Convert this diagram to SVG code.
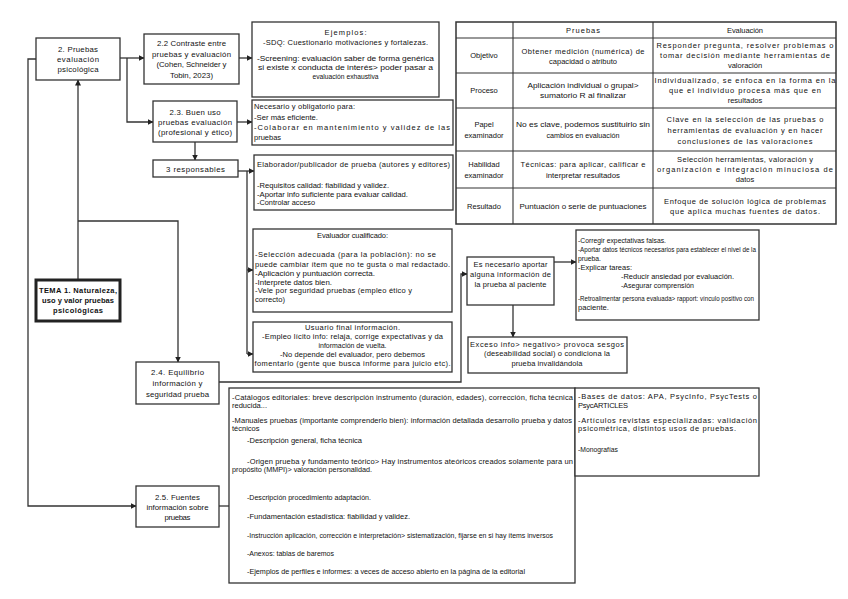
<svg xmlns="http://www.w3.org/2000/svg" width="848" height="599" viewBox="0 0 848 599">
<defs>
<style>
.bx{fill:#fff;stroke:#333;stroke-width:1.3}
.bold{fill:#fff;stroke:#222;stroke-width:3}
.ln{fill:none;stroke:#333;stroke-width:1.3}
.t{font-family:"Liberation Sans",Arial,sans-serif;font-size:7.5px;fill:#111}
.l{font-size:7.8px}
.c{text-anchor:middle}
.b{font-weight:bold}
</style>
<marker id="ah" markerWidth="6" markerHeight="6" refX="5.5" refY="3" orient="auto" markerUnits="userSpaceOnUse">
<path d="M0,0 L6,3 L0,6 Z" fill="#222"/>
</marker>
</defs>
<rect width="848" height="599" fill="#fff"/>

<g id="connectors">
<path class="ln" d="M120,58 H144" marker-end="url(#ah)"/>
<path class="ln" d="M127,58 V122 H153" marker-end="url(#ah)"/>
<path class="ln" d="M239,58 H252" marker-end="url(#ah)"/>
<path class="ln" d="M237,122 H252" marker-end="url(#ah)"/>
<path class="ln" d="M195,142 V160" marker-end="url(#ah)"/>
<path class="ln" d="M238,171 H254" marker-end="url(#ah)"/>
<path class="ln" d="M247,171 V354"/>
<path class="ln" d="M247,270 H253" marker-end="url(#ah)"/>
<path class="ln" d="M247,354 H253" marker-end="url(#ah)"/>
<path class="ln" d="M36,59 H28 V506 H136" marker-end="url(#ah)"/>
<path class="ln" d="M78,280 V80" marker-end="url(#ah)"/>
<path class="ln" d="M78,221 H178 V362" marker-end="url(#ah)"/>
<path class="ln" d="M219,382 H461 V274 H467" marker-end="url(#ah)"/>
<path class="ln" d="M554,262 H576" marker-end="url(#ah)"/>
<path class="ln" d="M513,305 V337" marker-end="url(#ah)"/>
<path class="ln" d="M219,506 H229"/>
</g>

<g id="n2">
<rect class="bx" x="36" y="38" width="84" height="42"/>
<text class="t l c" x="78" y="52" textLength="40">2. Pruebas</text>
<text class="t l c" x="78" y="62" textLength="42">evaluación</text>
<text class="t l c" x="78" y="72" textLength="41">psicológica</text>
</g>

<g id="n22">
<rect class="bx" x="144" y="34" width="95" height="50"/>
<text class="t l c" x="191.5" y="46" textLength="69">2.2 Contraste entre</text>
<text class="t l c" x="191.5" y="56.5" textLength="79">pruebas y evaluación</text>
<text class="t l c" x="191.5" y="67" textLength="70">(Cohen, Schneider y</text>
<text class="t l c" x="191.5" y="77.5" textLength="43">Tobin, 2023)</text>
</g>

<g id="ejemplos">
<rect class="bx" x="252" y="22" width="187" height="75"/>
<text class="t c" x="345.5" y="35" textLength="42">Ejemplos:</text>
<text class="t c" x="345.5" y="45" textLength="165">-SDQ: Cuestionario motivaciones y fortalezas.</text>
<text class="t c" x="345.5" y="61" textLength="177" lengthAdjust="spacingAndGlyphs">-Screening: evaluación saber de forma genérica</text>
<text class="t c" x="345.5" y="70" textLength="175" lengthAdjust="spacingAndGlyphs">si existe x conducta de interés&gt; poder pasar a</text>
<text class="t c" x="345.5" y="78.5" textLength="66" lengthAdjust="spacingAndGlyphs">evaluación exhaustiva</text>
</g>

<g id="n23">
<rect class="bx" x="153" y="101" width="84" height="41"/>
<text class="t l c" x="195" y="115" textLength="51">2.3. Buen uso</text>
<text class="t l c" x="195" y="125" textLength="74">pruebas evaluación</text>
<text class="t l c" x="195" y="135" textLength="74">(profesional y ético)</text>
</g>

<g id="necesario">
<rect class="bx" x="252" y="100" width="201" height="45"/>
<text class="t" x="254" y="109" textLength="101">Necesario y obligatorio para:</text>
<text class="t" x="254" y="120" textLength="64" lengthAdjust="spacingAndGlyphs">-Ser más eficiente.</text>
<text class="t" x="254" y="130" textLength="196">-Colaborar en mantenimiento y validez de las</text>
<text class="t" x="254" y="140">pruebas</text>
</g>

<g id="responsables">
<rect class="bx" x="153" y="160" width="85" height="17"/>
<text class="t l c" x="195.5" y="171.5" textLength="59">3 responsables</text>
</g>

<g id="elaborador">
<rect class="bx" x="254" y="155" width="199" height="55"/>
<text class="t" x="257" y="167" textLength="193">Elaborador/publicador de prueba (autores y editores)</text>
<text class="t" x="257" y="188" textLength="132" lengthAdjust="spacingAndGlyphs">-Requisitos calidad: fiabilidad y validez.</text>
<text class="t" x="257" y="197" textLength="151" lengthAdjust="spacingAndGlyphs">-Aportar info suficiente para evaluar calidad.</text>
<text class="t" x="257" y="205" textLength="58" lengthAdjust="spacingAndGlyphs">-Controlar acceso</text>
</g>

<g id="evaluador">
<rect class="bx" x="253" y="229" width="199" height="83"/>
<text class="t c" x="352.5" y="238" textLength="71">Evaluador cualificado:</text>
<text class="t" x="255" y="257" textLength="181">-Selección adecuada (para la población): no se</text>
<text class="t" x="255" y="267" textLength="195">puede cambiar ítem que no te gusta o mal redactado.</text>
<text class="t" x="255" y="276" textLength="120" lengthAdjust="spacingAndGlyphs">-Aplicación y puntuación correcta.</text>
<text class="t" x="255" y="285" textLength="77" lengthAdjust="spacingAndGlyphs">-Interprete datos bien.</text>
<text class="t" x="255" y="293" textLength="157">-Vele por seguridad pruebas (empleo ético y</text>
<text class="t" x="255" y="302" textLength="30" lengthAdjust="spacingAndGlyphs">correcto)</text>
</g>

<g id="usuario">
<rect class="bx" x="253" y="322" width="199" height="50"/>
<text class="t c" x="352.5" y="330" textLength="95">Usuario final información.</text>
<text class="t c" x="352.5" y="339" textLength="181">-Empleo lícito info: relaja, corrige expectativas y da</text>
<text class="t c" x="352.5" y="348" textLength="68" lengthAdjust="spacingAndGlyphs">información de vuelta.</text>
<text class="t c" x="352.5" y="357" textLength="145">-No depende del evaluador, pero debemos</text>
<text class="t c" x="352.5" y="366" textLength="196">fomentarlo (gente que busca informe para juicio etc).</text>
</g>

<g id="necesarioAportar">
<rect class="bx" x="467" y="257" width="87" height="48"/>
<text class="t c" x="510.5" y="267" textLength="74">Es necesario aportar</text>
<text class="t c" x="510.5" y="277" textLength="81">alguna información de</text>
<text class="t c" x="510.5" y="287" textLength="72">la prueba al paciente</text>
</g>

<g id="corregir">
<rect class="bx" x="576" y="230" width="183" height="90"/>
<text class="t" x="578" y="243" textLength="88" lengthAdjust="spacingAndGlyphs">-Corregir expectativas falsas.</text>
<text class="t" x="578" y="252" textLength="178" lengthAdjust="spacingAndGlyphs">-Aportar datos técnicos necesarios para establecer el nivel de la</text>
<text class="t" x="578" y="260.5" textLength="23" lengthAdjust="spacingAndGlyphs">prueba.</text>
<text class="t" x="578" y="269.5" textLength="54" lengthAdjust="spacingAndGlyphs">-Explicar tareas:</text>
<text class="t" x="621" y="279" textLength="113" lengthAdjust="spacingAndGlyphs">-Reducir ansiedad por evaluación.</text>
<text class="t" x="621" y="288" textLength="73" lengthAdjust="spacingAndGlyphs">-Asegurar comprensión</text>
<text class="t" x="578" y="300.5" textLength="176" lengthAdjust="spacingAndGlyphs">-Retroalimentar persona evaluada&gt; rapport: vínculo positivo con</text>
<text class="t" x="578" y="309.5" textLength="31" lengthAdjust="spacingAndGlyphs">paciente.</text>
</g>

<g id="exceso">
<rect class="bx" x="468" y="337" width="159" height="36"/>
<text class="t c" x="547" y="347" textLength="154">Exceso info&gt; negativo&gt; provoca sesgos</text>
<text class="t c" x="547" y="356" textLength="126">(deseabilidad social) o condiciona la</text>
<text class="t c" x="547" y="366" textLength="71">prueba invalidándola</text>
</g>

<g id="tema1">
<rect class="bold" x="36" y="280" width="84" height="41"/>
<text class="t c b" x="78" y="293" textLength="78">TEMA 1. Naturaleza,</text>
<text class="t c b" x="78" y="303" textLength="72">uso y valor pruebas</text>
<text class="t c b" x="78" y="313" textLength="50">psicológicas</text>
</g>

<g id="n24">
<rect class="bx" x="136" y="362" width="83" height="42"/>
<text class="t l c" x="177.5" y="375" textLength="53">2.4. Equilibrio</text>
<text class="t l c" x="177.5" y="386" textLength="50">información y</text>
<text class="t l c" x="177.5" y="397" textLength="63">seguridad prueba</text>
</g>

<g id="n25">
<rect class="bx" x="136" y="486" width="83" height="41"/>
<text class="t l c" x="177.5" y="500" textLength="45">2.5. Fuentes</text>
<text class="t l c" x="177.5" y="510" textLength="62">información sobre</text>
<text class="t l c" x="177.5" y="520" textLength="26">pruebas</text>
</g>

<g id="catalogos">
<rect class="bx" x="229" y="388" width="346" height="195"/>
<text class="t" x="232" y="399.5" textLength="341">-Catálogos editoriales: breve descripción instrumento (duración, edades), corrección, ficha técnica</text>
<text class="t" x="232" y="407.5">reducida...</text>
<text class="t" x="232" y="422.5" textLength="340">-Manuales pruebas (importante comprenderlo bien): información detallada desarrollo prueba y datos</text>
<text class="t" x="232" y="430.5">técnicos</text>
<text class="t" x="247" y="442.5" textLength="115" lengthAdjust="spacingAndGlyphs">-Descripción general, ficha técnica</text>
<text class="t" x="247" y="463.5" textLength="326">-Origen prueba y fundamento teórico&gt; Hay instrumentos ateóricos creados solamente para un</text>
<text class="t" x="232" y="471.5" textLength="140" lengthAdjust="spacingAndGlyphs">propósito (MMPI)&gt; valoración personalidad.</text>
<text class="t" x="247" y="499.5" textLength="124" lengthAdjust="spacingAndGlyphs">-Descripción procedimiento adaptación.</text>
<text class="t" x="247" y="518.5" textLength="163" lengthAdjust="spacingAndGlyphs">-Fundamentación estadística: fiabilidad y validez.</text>
<text class="t" x="247" y="537.5" textLength="306" lengthAdjust="spacingAndGlyphs">-Instrucción aplicación, corrección e interpretación&gt; sistematización, fijarse en si hay ítems inversos</text>
<text class="t" x="247" y="555.5" textLength="87" lengthAdjust="spacingAndGlyphs">-Anexos: tablas de baremos</text>
<text class="t" x="247" y="573.5" textLength="278" lengthAdjust="spacingAndGlyphs">-Ejemplos de perfiles e informes: a veces de acceso abierto en la página de la editorial</text>
</g>

<g id="bases">
<rect class="bx" x="575" y="388" width="184" height="88"/>
<text class="t" x="578" y="398.5" textLength="179">-Bases de datos: APA, PsycInfo, PsycTests o</text>
<text class="t" x="578" y="407.5" textLength="50">PsycARTICLES</text>
<text class="t" x="578" y="422.5" textLength="179">-Artículos revistas especializadas: validación</text>
<text class="t" x="578" y="430.5" textLength="158">psicométrica, distintos usos de pruebas.</text>
<text class="t" x="578" y="451.5" textLength="40" lengthAdjust="spacingAndGlyphs">-Monografías</text>
</g>

<g id="tabla">
<rect x="456" y="22" width="380" height="202" fill="#fff" stroke="#333" stroke-width="1.5"/>
<path d="M513,22 V224 M653,22 V224 M456,38 H836 M456,73 H836 M456,108 H836 M456,151 H836 M456,188 H836" stroke="#333" stroke-width="1.1" fill="none"/>
<text class="t c" x="583" y="33" textLength="34">Pruebas</text>
<text class="t c" x="745" y="33" textLength="36">Evaluación</text>
<text class="t c" x="484" y="58">Objetivo</text>
<text class="t c" x="583" y="53.5" textLength="123">Obtener medición (numérica) de</text>
<text class="t c" x="583" y="63.5" textLength="68" lengthAdjust="spacingAndGlyphs">capacidad o atributo</text>
<text class="t c" x="745" y="47.5" textLength="177">Responder pregunta, resolver problemas o</text>
<text class="t c" x="745" y="57.5" textLength="170">tomar decisión mediante herramientas de</text>
<text class="t c" x="745" y="67.5">valoración</text>
<text class="t c" x="484" y="93">Proceso</text>
<text class="t c" x="583" y="88" textLength="111" lengthAdjust="spacingAndGlyphs">Aplicación individual o grupal&gt;</text>
<text class="t c" x="583" y="98" textLength="86" lengthAdjust="spacingAndGlyphs">sumatorio R al finalizar</text>
<text class="t c" x="745" y="83" textLength="181">Individualizado, se enfoca en la forma en la</text>
<text class="t c" x="745" y="93" textLength="152">que el individuo procesa más que en</text>
<text class="t c" x="745" y="103">resultados</text>
<text class="t c" x="484" y="127">Papel</text>
<text class="t c" x="484" y="138">examinador</text>
<text class="t c" x="583" y="127" textLength="134" lengthAdjust="spacingAndGlyphs">No es clave, podemos sustituirlo sin</text>
<text class="t c" x="583" y="138" textLength="73" lengthAdjust="spacingAndGlyphs">cambios en evaluación</text>
<text class="t c" x="745" y="121.5" textLength="157">Clave en la selección de las pruebas o</text>
<text class="t c" x="745" y="132.5" textLength="155">herramientas de evaluación y en hacer</text>
<text class="t c" x="745" y="143.5" textLength="135">conclusiones de las valoraciones</text>
<text class="t c" x="484" y="167">Habilidad</text>
<text class="t c" x="484" y="178">examinador</text>
<text class="t c" x="583" y="167" textLength="125">Técnicas: para aplicar, calificar e</text>
<text class="t c" x="583" y="178" textLength="74" lengthAdjust="spacingAndGlyphs">interpretar resultados</text>
<text class="t c" x="745" y="162" textLength="136">Selección herramientas, valoración y</text>
<text class="t c" x="745" y="172" textLength="176">organización e integración minuciosa de</text>
<text class="t c" x="745" y="182">datos</text>
<text class="t c" x="484" y="209">Resultado</text>
<text class="t c" x="583" y="209" textLength="127" lengthAdjust="spacingAndGlyphs">Puntuación o serie de puntuaciones</text>
<text class="t c" x="745" y="203.5" textLength="162">Enfoque de solución lógica de problemas</text>
<text class="t c" x="745" y="214" textLength="150">que aplica muchas fuentes de datos.</text>
</g>
</svg>
